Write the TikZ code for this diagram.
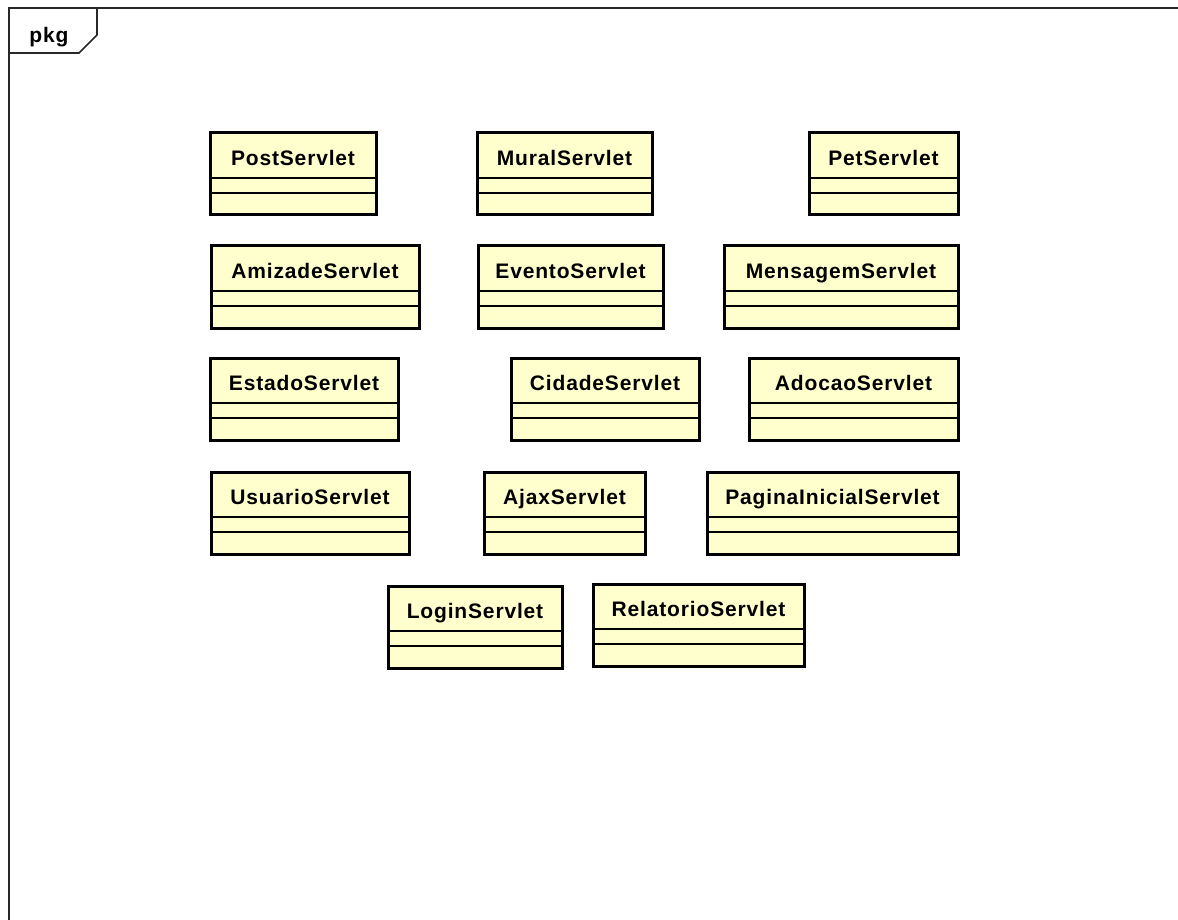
\documentclass[tikz,border=0pt]{standalone}
\usepackage{fontspec}
\setmainfont{Liberation Sans}
\newfontfamily\umlfont[LetterSpace=4]{Liberation Sans}
\usetikzlibrary{positioning}
\definecolor{classfill}{RGB}{255,255,206}
\definecolor{framegray}{RGB}{40,40,40}

\tikzset{
  namepart/.style={draw=black, line width=1.5pt, fill=classfill, anchor=north west,
    minimum height=45pt, inner sep=0pt, outer sep=0pt, text height=20pt, text depth=0pt,
    font=\umlfont\bfseries\fontsize{21}{24}\selectfont},
  attrpart/.style={draw=black, line width=1.5pt, fill=classfill, minimum height=15pt,
    inner sep=0pt, outer sep=0pt},
  opspart/.style={attrpart, minimum height=22pt},
  classborder/.style={draw=black, line width=3pt},
  frameline/.style={draw=framegray, line width=1.6pt}
}
% one class box: name, top left corner, width, label
\newcommand{\servlet}[4]{%
  \node[namepart, minimum width=#3pt] (#1) at (#2) {#4};
  \node[attrpart, minimum width=#3pt, below=0pt of #1] (#1-attr) {};
  \node[opspart, minimum width=#3pt, below=0pt of #1-attr] (#1-ops) {};
  \draw[classborder] (#1.north west) rectangle (#1-ops.south east);
}

\begin{document}
\begin{tikzpicture}[x=1pt,y=-1pt]
  \useasboundingbox (0,0) rectangle (1178,920);
  % package frame and tab
  \draw[frameline] (9,920) |- (1178,8);
  \draw[frameline] (9,53) -- (79,53) -- (97,35) -- (97,8);
  \node[font=\umlfont\bfseries\fontsize{21}{24}\selectfont, inner sep=0pt] (pkglabel) at (49,37) {pkg};
  % row 1
  \servlet{post}{210,133}{166}{PostServlet}
  \servlet{mural}{477,133}{175}{MuralServlet}
  \servlet{pet}{809,133}{149}{PetServlet}
  % row 2
  \servlet{amizade}{211,246}{208}{AmizadeServlet}
  \servlet{evento}{478,246}{185}{EventoServlet}
  \servlet{mensagem}{724,246}{234}{MensagemServlet}
  % row 3
  \servlet{estado}{210,358}{188}{EstadoServlet}
  \servlet{cidade}{511,358}{188}{CidadeServlet}
  \servlet{adocao}{749,358}{209}{AdocaoServlet}
  % row 4
  \servlet{usuario}{211,472}{198}{UsuarioServlet}
  \servlet{ajax}{484,472}{161}{AjaxServlet}
  \servlet{inicial}{707,472}{251}{PaginaInicialServlet}
  % row 5
  \servlet{login}{388,586}{174}{LoginServlet}
  \servlet{relatorio}{593,584}{211}{RelatorioServlet}
\end{tikzpicture}
\end{document}
